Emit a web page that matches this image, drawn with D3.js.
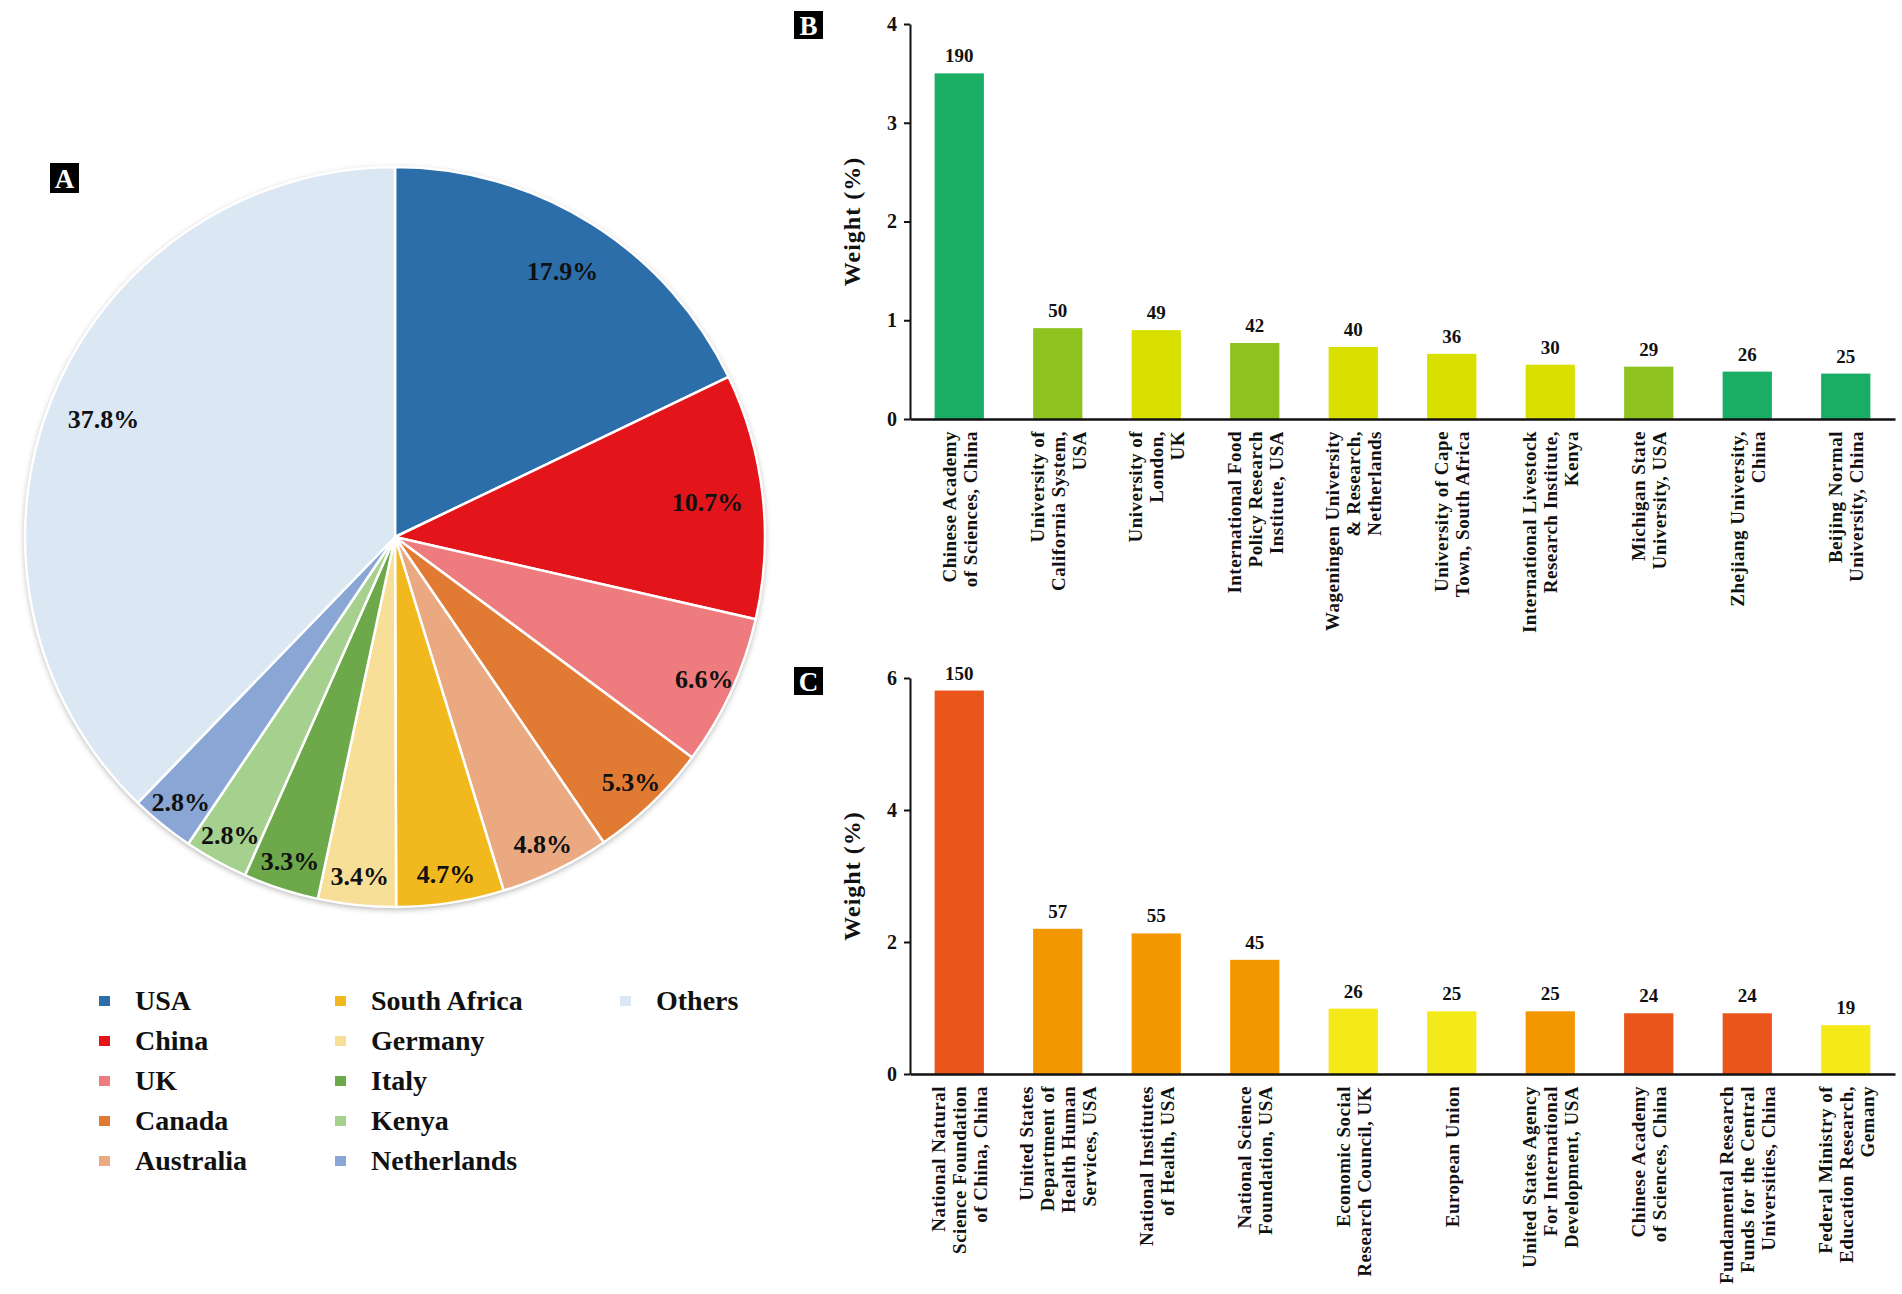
<!DOCTYPE html>
<html>
<head>
<meta charset="utf-8">
<script src="https://cdn.jsdelivr.net/npm/d3@7"></script>
<style>
  body { margin: 0; background: #fff; }
  svg { display: block; font-family: "Liberation Serif", "Times New Roman", serif; font-weight: bold; }
</style>
</head>
<body>
<svg id="chart" width="1902" height="1294"></svg>
<script>
// panel A - countries
const countries = ["USA", "China", "UK", "Canada", "Australia", "South Africa", "Germany", "Italy", "Kenya", "Netherlands", "Others"];
const countryShares = [17.9, 10.7, 6.6, 5.3, 4.8, 4.7, 3.4, 3.3, 2.8, 2.8, 37.8];
const countryColors = ["#2c6ea9", "#e3151b", "#ee7b7e", "#e17a33", "#eba982", "#f2b91f", "#f7df98", "#6da84a", "#a6d08e", "#8aa6d5", "#dce7f4"];

// panel B - institutions
const institutions = [
  ["Chinese Academy", "of Sciences, China"],
  ["University of", "California System,", "USA"],
  ["University of", "London,", "UK"],
  ["International Food", "Policy Research", "Institute, USA"],
  ["Wageningen University", "& Research,", "Netherlands"],
  ["University of Cape", "Town, South Africa"],
  ["International Livestock", "Research Institute,", "Kenya"],
  ["Michigan State", "University, USA"],
  ["Zhejiang University,", "China"],
  ["Beijing Normal", "University, China"]
];
const institutionCounts = [190, 50, 49, 42, 40, 36, 30, 29, 26, 25];
const institutionWeights = [3.5, 0.92, 0.9, 0.77, 0.73, 0.66, 0.55, 0.53, 0.48, 0.46];
const institutionColors = ["#19ae64", "#8dc21f", "#d9e000", "#8dc21f", "#d9e000", "#d9e000", "#d9e000", "#8dc21f", "#19ae64", "#19ae64"];
const institutionTicks = [0, 1, 2, 3, 4];

// panel C - funders
const funders = [
  ["National Natural", "Science Foundation", "of China, China"],
  ["United States", "Department of", "Health Human", "Services, USA"],
  ["National Institutes", "of Health, USA"],
  ["National Science", "Foundation, USA"],
  ["Economic Social", "Research Council, UK"],
  ["European Union"],
  ["United States Agency", "For International", "Development, USA"],
  ["Chinese Academy", "of Sciences, China"],
  ["Fundamental Research", "Funds for the Central", "Universities, China"],
  ["Federal Ministry of", "Education Research,", "Gemany"]
];
const funderCounts = [150, 57, 55, 45, 26, 25, 25, 24, 24, 19];
const funderWeights = [5.81, 2.2, 2.13, 1.73, 0.99, 0.95, 0.95, 0.92, 0.92, 0.74];
const funderColors = ["#e9551a", "#f39700", "#f39700", "#f39700", "#f5ea19", "#f5ea19", "#f39700", "#e9551a", "#e9551a", "#f5ea19"];
const funderTicks = [0, 2, 4, 6];

const svg = d3.select("#chart");

function panelTag(x, y, w, h, letter) {
  svg.append("rect").attr("x", x).attr("y", y).attr("width", w).attr("height", h).attr("fill", "#000");
  svg.append("text")
    .attr("x", x + w / 2).attr("y", y + h / 2).attr("dy", "0.36em")
    .attr("text-anchor", "middle").attr("fill", "#fff")
    .style("font-size", "27px").text(letter);
}

// ---------- pie ----------
const cx = 395, cy = 537, R = 370;

const defs = svg.append("defs");
const shadow = defs.append("filter").attr("id", "pie-shadow")
  .attr("x", "-10%").attr("y", "-10%").attr("width", "120%").attr("height", "120%");
shadow.append("feDropShadow").attr("dx", 0).attr("dy", 2).attr("stdDeviation", 3)
  .attr("flood-color", "#000").attr("flood-opacity", 0.35);

const pieG = svg.append("g").attr("transform", `translate(${cx},${cy})`);
pieG.append("circle").attr("r", R).attr("fill", "#fff").attr("filter", "url(#pie-shadow)");

const pie = d3.pie().sort(null).value((d) => d);
const arcs = pie(countryShares);
const arc = d3.arc().innerRadius(0).outerRadius(R);

pieG.selectAll("path.slice")
  .data(arcs)
  .enter()
  .append("path")
  .attr("class", "slice")
  .attr("d", arc)
  .attr("fill", (d, i) => countryColors[i])
  .attr("stroke", "#fff")
  .attr("stroke-width", 2.5)
  .attr("stroke-linejoin", "round");

pieG.selectAll("text.pct")
  .data(arcs)
  .enter()
  .append("text")
  .attr("class", "pct")
  .attr("transform", (d) => {
    const r = d.data > 10 ? R * 0.85 : R * 0.92;
    const [x, y] = d3.arc().innerRadius(r).outerRadius(r).centroid(d);
    return `translate(${x},${y})`;
  })
  .attr("dy", "0.35em")
  .attr("text-anchor", "middle")
  .style("font-size", "26px")
  .attr("fill", "#111")
  .text((d) => `${d.data}%`);

panelTag(50, 163, 29, 30, "A");

// legend
const legendX = [99, 335, 620];
const legendG = svg.append("g");
countries.forEach((name, i) => {
  const col = Math.floor(i / 5), row = i % 5;
  const y = 1001 + row * 40;
  legendG.append("rect")
    .attr("x", legendX[col]).attr("y", y - 5)
    .attr("width", 11).attr("height", 10)
    .attr("fill", countryColors[i]);
  legendG.append("text")
    .attr("x", legendX[col] + 36).attr("y", y + 9)
    .style("font-size", "28px")
    .attr("fill", "#111")
    .text(name);
});

// ---------- bar panels ----------
function drawBars({ labels, counts, weights, colors, ticks, top, bottom, tag }) {
  const left = 910, right = 1895;
  const x = d3.scaleBand()
    .domain(d3.range(labels.length))
    .range([left, right])
    .paddingInner(0.5)
    .paddingOuter(0.25);
  const y = d3.scaleLinear()
    .domain([0, d3.max(ticks)])
    .range([bottom, top]);

  const g = svg.append("g");

  g.selectAll("rect.bar")
    .data(weights)
    .enter()
    .append("rect")
    .attr("class", "bar")
    .attr("x", (d, i) => x(i))
    .attr("width", x.bandwidth())
    .attr("y", (d) => y(d))
    .attr("height", (d) => y(0) - y(d))
    .attr("fill", (d, i) => colors[i]);

  g.selectAll("text.count")
    .data(weights)
    .enter()
    .append("text")
    .attr("class", "count")
    .attr("x", (d, i) => x(i) + x.bandwidth() / 2)
    .attr("y", (d) => y(d) - 11)
    .attr("text-anchor", "middle")
    .style("font-size", "19px")
    .attr("fill", "#111")
    .text((d, i) => counts[i]);

  const yAxis = g.append("g")
    .attr("transform", `translate(${left},0)`)
    .call(d3.axisLeft(y).tickValues(ticks).tickSize(6).tickSizeOuter(0).tickPadding(7).tickFormat(d3.format("d")));
  yAxis.select(".domain").attr("stroke", "#111").attr("stroke-width", 2);
  yAxis.selectAll(".tick line").attr("stroke", "#111").attr("stroke-width", 2);
  yAxis.selectAll(".tick text")
    .style("font-family", "'Liberation Serif', 'Times New Roman', serif")
    .style("font-weight", "bold")
    .style("font-size", "20px")
    .attr("fill", "#111");

  const xAxis = g.append("g")
    .attr("transform", `translate(0,${bottom})`)
    .call(d3.axisBottom(x).tickSize(0).tickSizeOuter(0).tickFormat(""));
  xAxis.select(".domain").attr("stroke", "#111").attr("stroke-width", 2.5);

  xAxis.selectAll(".tick").each(function (i) {
    const lines = labels[i];
    const t = d3.select(this).append("text")
      .attr("transform", "rotate(-90)")
      .attr("text-anchor", "end")
      .attr("fill", "#111")
      .style("font-family", "'Liberation Serif', 'Times New Roman', serif")
      .style("font-weight", "bold")
      .style("font-size", "19px")
      .style("letter-spacing", "0.5px");
    lines.forEach((line, k) => {
      t.append("tspan")
        .attr("x", -12)
        .attr("y", (k - (lines.length - 1) / 2) * 21 + 7)
        .text(line);
    });
  });

  g.append("text")
    .attr("transform", `translate(860,${(top + bottom) / 2}) rotate(-90)`)
    .attr("text-anchor", "middle")
    .style("font-size", "24px")
    .style("letter-spacing", "1px")
    .attr("fill", "#111")
    .text("Weight (%)");

  panelTag(794, tag, 29, 28, labels === institutions ? "B" : "C");
}

drawBars({
  labels: institutions,
  counts: institutionCounts,
  weights: institutionWeights,
  colors: institutionColors,
  ticks: institutionTicks,
  top: 24,
  bottom: 419,
  tag: 11
});

drawBars({
  labels: funders,
  counts: funderCounts,
  weights: funderWeights,
  colors: funderColors,
  ticks: funderTicks,
  top: 678,
  bottom: 1074,
  tag: 667
});
</script>
</body>
</html>
